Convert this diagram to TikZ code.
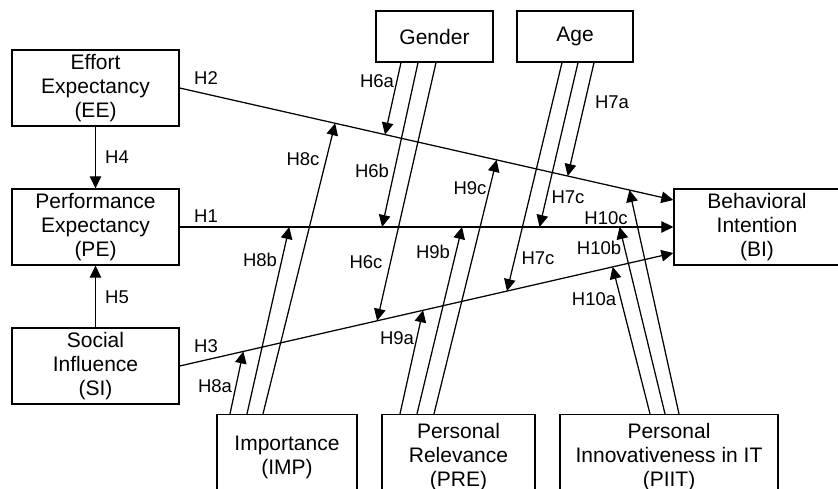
\documentclass[tikz,border=0pt]{standalone}
\usepackage{fontspec}
\setmainfont{Liberation Sans}
\usetikzlibrary{arrows.meta}
\begin{document}
\begin{tikzpicture}[x=1pt,y=-1pt,
  box/.style={draw, line width=1.3pt, align=center, inner sep=0pt, font=\fontsize{21}{24}\selectfont},
  lbl/.style={inner sep=0pt, font=\fontsize{18.5}{21}\selectfont},
  arr/.style={line width=1.25pt, -{Triangle[length=12pt,width=11.5pt]}}]
\useasboundingbox (0,0) rectangle (838,489);
\fill[white] (0,0) rectangle (838,489);
\clip (0,0) rectangle (838,489);
% boxes
\node[box, minimum width=167pt, minimum height=76pt] (EE) at (95.5,88) {Effort\\Expectancy\\(EE)};
\node[box, minimum width=167pt, minimum height=76pt] (PE) at (95.5,227) {Performance\\Expectancy\\(PE)};
\node[box, minimum width=167pt, minimum height=76pt] (SI) at (95.5,366) {Social\\Influence\\(SI)};
\node[box, minimum width=166pt, minimum height=76pt] (BI) at (757,227) {Behavioral\\Intention\\(BI)};
\node[box, minimum width=117pt, minimum height=51pt] (G) at (434.5,36.5) {Gender};
\node[box, minimum width=116pt, minimum height=51pt] (A) at (575,36.5) {Age};
\node[box, minimum width=140pt, minimum height=85pt] (IMP) at (287,457) {Importance\\(IMP)};
\node[box, minimum width=153pt, minimum height=85pt] (PRE) at (458.5,457) {Personal\\Relevance\\(PRE)};
\node[box, minimum width=218pt, minimum height=85pt] (PIIT) at (669,457) {Personal\\Innovativeness in IT\\(PIIT)};
% main paths
\coordinate (h2e) at ([yshift=27pt]BI.west);
\coordinate (h3e) at ([yshift=-26pt]BI.west);
\draw[arr] (EE.south) -- (PE.north);
\draw[arr] (SI.north) -- (PE.south);
\draw[arr] (EE.east) -- (h2e)
  coordinate[pos=0.315] (p8c) coordinate[pos=0.416] (p6a) coordinate[pos=0.642] (p9c)
  coordinate[pos=0.786] (p7a) coordinate[pos=0.911] (p10c);
\draw[arr] (PE.east) -- (BI.west)
  coordinate[pos=0.222] (p8b) coordinate[pos=0.410] (p6b) coordinate[pos=0.572] (p9b)
  coordinate[pos=0.729] (p7b) coordinate[pos=0.891] (p10b);
\draw[arr] (SI.east) -- (h3e)
  coordinate[pos=0.129] (p8a) coordinate[pos=0.400] (p6c) coordinate[pos=0.493] (p9a)
  coordinate[pos=0.663] (p7c) coordinate[pos=0.877] (p10a);
% moderators: gender
\draw[arr] ([xshift=-33.5pt]G.south) -- (p6a);
\draw[arr] ([xshift=-16.5pt]G.south) -- (p6b);
\draw[arr] ([xshift=1.5pt]G.south) -- (p6c);
% age
\draw[arr] ([xshift=19pt]A.south) -- (p7a);
\draw[arr] ([xshift=3pt]A.south) -- (p7b);
\draw[arr] ([xshift=-13pt]A.south) -- (p7c);
% importance
\draw[arr] ([xshift=-57pt]IMP.north) -- (p8a);
\draw[arr] ([xshift=-40pt]IMP.north) -- (p8b);
\draw[arr] ([xshift=-24pt]IMP.north) -- (p8c);
% personal relevance
\draw[arr] ([xshift=-58.5pt]PRE.north) -- (p9a);
\draw[arr] ([xshift=-41.5pt]PRE.north) -- (p9b);
\draw[arr] ([xshift=-24.5pt]PRE.north) -- (p9c);
% PIIT
\draw[arr] ([xshift=-19pt]PIIT.north) -- (p10a);
\draw[arr] ([xshift=-4pt]PIIT.north) -- (p10b);
\draw[arr] ([xshift=10pt]PIIT.north) -- (p10c);
% labels
\node[lbl] (l2) at (206,78) {H2};
\node[lbl] (l1) at (206,216) {H1};
\node[lbl] (l3) at (206,346) {H3};
\node[lbl] (l4) at (117,157) {H4};
\node[lbl] (l5) at (117,297) {H5};
\node[lbl] (l6a) at (377,81) {H6a};
\node[lbl] (l6b) at (372,171) {H6b};
\node[lbl] (l6c) at (366,262) {H6c};
\node[lbl] (l7a) at (612,102) {H7a};
\node[lbl] (l7b) at (568,197) {H7c};
\node[lbl] (l7c) at (538,258) {H7c};
\node[lbl] (l8a) at (215,386) {H8a};
\node[lbl] (l8b) at (260,260) {H8b};
\node[lbl] (l8c) at (303,159) {H8c};
\node[lbl] (l9a) at (397,338) {H9a};
\node[lbl] (l9b) at (433,252) {H9b};
\node[lbl] (l9c) at (470,188) {H9c};
\node[lbl] (l10a) at (594,299) {H10a};
\node[lbl] (l10b) at (599,248) {H10b};
\node[lbl] (l10c) at (606,218) {H10c};
\end{tikzpicture}
\end{document}
